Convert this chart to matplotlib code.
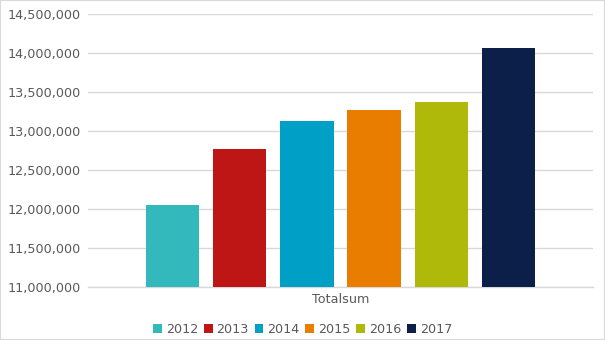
import matplotlib
matplotlib.use("Agg")
import matplotlib.pyplot as plt
from matplotlib.ticker import FuncFormatter, MultipleLocator
from matplotlib.patches import Rectangle

years = ["2012", "2013", "2014", "2015", "2016", "2017"]
values = [12055000, 12769000, 13128000, 13269000, 13372000, 14064000]
colors = ["#33B8BC", "#BE1515", "#00A0C6", "#E87D00", "#AFB90A", "#0B1F48"]
category = "Totalsum"

plt.rcParams["font.family"] = ["DejaVu Sans"]
text_color = "#595959"
grid_color = "#D9D9D9"

fig = plt.figure(figsize=(6.05, 3.4), dpi=100)
ax = fig.add_axes([88 / 605, 1 - 287 / 340, (593 - 88) / 605, (287 - 14) / 340])

step = 0.1327
width = 0.105
n = len(years)
for i, (yr, v, c) in enumerate(zip(years, values, colors)):
    ax.bar((i - (n - 1) / 2) * step, v, width=width, color=c, label=yr, zorder=3)

ax.set_xlim(-0.5, 0.5)
ax.set_ylim(11000000, 14500000)
ax.yaxis.set_major_locator(MultipleLocator(500000))
ax.yaxis.set_major_formatter(FuncFormatter(lambda v, p: f"{int(v):,}"))
ax.set_xticks([0])
ax.set_xticklabels([category])
ax.tick_params(axis="both", length=0, colors=text_color, labelsize=9.2)
ax.tick_params(axis="y", pad=5)
ax.tick_params(axis="x", pad=4)
ax.grid(axis="y", color=grid_color, linewidth=1, zorder=0)
for s in ["top", "right", "left"]:
    ax.spines[s].set_visible(False)
ax.spines["bottom"].set_color(grid_color)
ax.spines["bottom"].set_linewidth(1)

leg = fig.legend(loc="lower center", bbox_to_anchor=(0.5, -0.015), ncol=n, frameon=False,
                 fontsize=9.2, handlelength=0.7, handleheight=0.7, handletextpad=0.3,
                 columnspacing=0.45, borderaxespad=0.3)
for t in leg.get_texts():
    t.set_color(text_color)

fig.patches.append(Rectangle((0, 0), 1, 1, transform=fig.transFigure, fill=False,
                             edgecolor="#D9D9D9", linewidth=1.5))

fig.savefig("out.png", dpi=100)
